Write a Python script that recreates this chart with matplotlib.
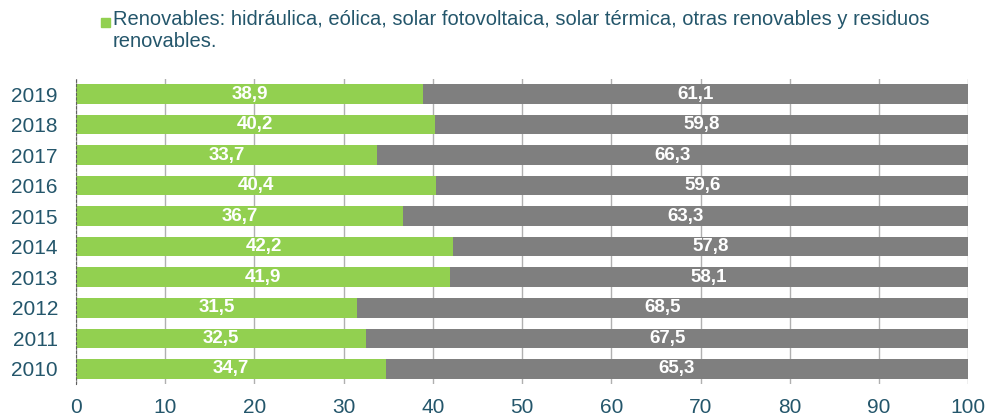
import matplotlib
matplotlib.use("Agg")
import matplotlib.pyplot as plt
from matplotlib.patches import Rectangle

years = ["2010", "2011", "2012", "2013", "2014", "2015", "2016", "2017", "2018", "2019"]
renovables = [34.7, 32.5, 31.5, 41.9, 42.2, 36.7, 40.4, 33.7, 40.2, 38.9]
no_renovables = [65.3, 67.5, 68.5, 58.1, 57.8, 63.3, 59.6, 66.3, 59.8, 61.1]
xticks = [0, 10, 20, 30, 40, 50, 60, 70, 80, 90, 100]
legend_label = "Renovables: hidráulica, eólica, solar fotovoltaica, solar térmica, otras renovables y residuos\nrenovables."

plt.rcParams['font.family'] = ['Liberation Sans', 'DejaVu Sans']
green = "#92d050"
gray = "#7f7f7f"
textc = "#24566b"

fig = plt.figure(figsize=(9.87, 4.17), dpi=100)
ax = fig.add_axes([0.077, 0.079, 0.904, 0.732])

y = range(len(years))
ax.barh(y, renovables, height=0.64, color=green, zorder=3)
ax.barh(y, no_renovables, left=renovables, height=0.64, color=gray, zorder=3)

for i, (r, n) in enumerate(zip(renovables, no_renovables)):
    ax.text(r / 2, i, f"{r:.1f}".replace(".", ","), ha="center", va="center",
            color="white", fontsize=13.5, fontweight="bold", zorder=4)
    ax.text(r + n / 2, i, f"{n:.1f}".replace(".", ","), ha="center", va="center",
            color="white", fontsize=13.5, fontweight="bold", zorder=4)

ax.set_xlim(0, 100)
ax.set_ylim(-0.5, len(years) - 0.5)
ax.set_xticks(xticks)
ax.set_xticklabels([str(t) for t in xticks])
ax.set_yticks(list(y))
ax.set_yticklabels(years)
ax.tick_params(axis="both", length=0, labelsize=15, colors=textc)
ax.tick_params(axis="x", pad=10)
ax.tick_params(axis="y", pad=13)
ax.grid(axis="x", color="#b0b0b0", linewidth=1, zorder=0)
for s in ["top", "right", "bottom"]:
    ax.spines[s].set_visible(False)
ax.spines["left"].set_linestyle((0, (2, 2)))
ax.spines["left"].set_color("#606060")
ax.spines["left"].set_zorder(5)

fig.patches.append(Rectangle((101 / 987, 1 - 27 / 417), 9 / 987, 9 / 417,
                             transform=fig.transFigure, color=green, figure=fig))
fig.text(113 / 987, 1 - 10 / 417, legend_label, ha="left", va="top",
         fontsize=14.5, color=textc, linespacing=1.2)

fig.savefig("out.png", dpi=100)
